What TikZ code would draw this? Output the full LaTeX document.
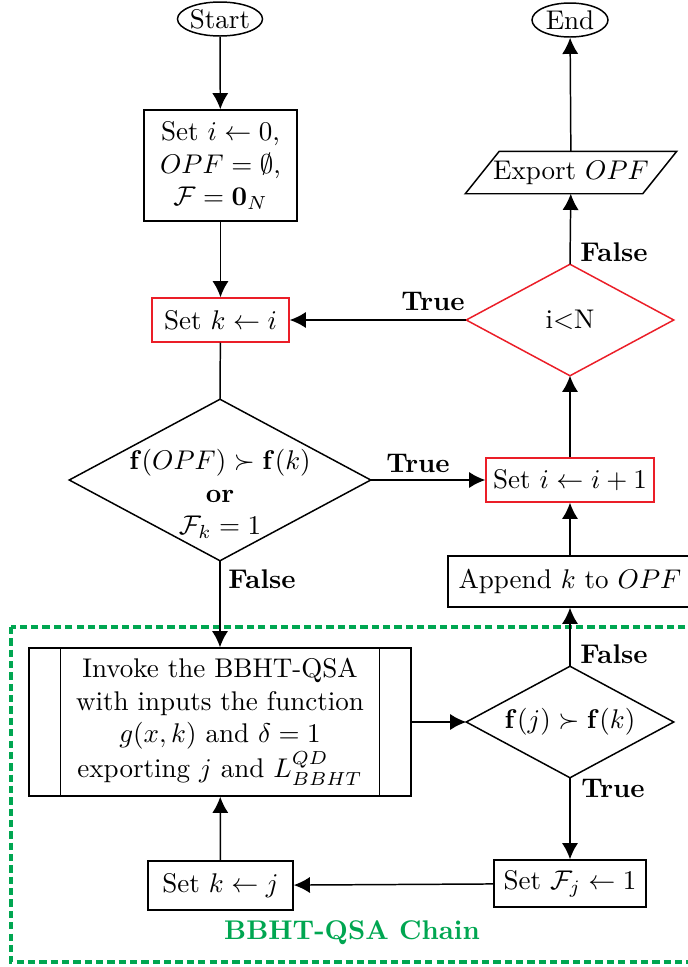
\documentclass[tikz,border=0pt]{standalone}
\usetikzlibrary{arrows.meta,shapes.geometric,calc}
\newlength\pxu
\setlength\pxu{0.37pt}
\definecolor{chaingreen}{RGB}{0,166,81}
\definecolor{hlred}{RGB}{235,30,40}
\begin{document}
\begin{tikzpicture}[x=0.37pt,y=-0.37pt,line width=0.55pt,
  >={Latex[length=6pt,width=6pt]},
  box/.style={draw,rectangle,inner sep=0pt,align=center},
  hot/.style={box,draw=hlred},
  term/.style={draw,ellipse,inner sep=0pt},
  decision/.style={rectangle,inner sep=0pt},
  lbl/.style={font=\bfseries,inner sep=0pt},
  chain/.style={draw=chaingreen,line width=1.3pt,dash pattern=on 2.7pt off 1.5pt}]
\useasboundingbox (0,0) rectangle (687,967);

% left column
\node[term,minimum width=76\pxu,minimum height=34\pxu] (start) at (220,19) {Start};
\node[box,minimum width=153\pxu,minimum height=111\pxu] (init) at (220.5,165.5)
  {Set $i\leftarrow 0$,\\ $OPF=\emptyset$,\\ $\mathcal{F}=\mathbf{0}_N$};
\node[hot,minimum width=137\pxu,minimum height=44\pxu] (setk) at (220.5,320) {Set $k\leftarrow i$};
\node[decision,minimum width=300\pxu,minimum height=160\pxu] (cond) at (220,480) {};
\draw (cond.north) -- (cond.east) -- (cond.south) -- (cond.west) -- cycle;
\node[align=center,inner sep=0pt] (condtxt) at (220,494)
  {$\mathbf{f}(OPF)\succ\mathbf{f}(k)$\\ \textbf{or}\\ $\mathcal{F}_k=1$};

% right column
\node[term,minimum width=76\pxu,minimum height=34\pxu] (end) at (570,20) {End};
\node[decision,minimum width=176\pxu,minimum height=41\pxu] (export) at (571,172.5) {Export $OPF$};
\draw ($(export.north west)+(17,0)$) -- ($(export.north east)+(17,0)$)
   -- ($(export.south east)+(-17,0)$) -- ($(export.south west)+(-17,0)$) -- cycle;
\node[decision,minimum width=206\pxu,minimum height=110\pxu] (less) at (570,320) {i$<$N};
\draw[hlred] (less.north) -- (less.east) -- (less.south) -- (less.west) -- cycle;
\node[hot,minimum width=168\pxu,minimum height=44\pxu] (inc) at (570,480) {Set $i\leftarrow i+1$};
\node[box,minimum width=244\pxu,minimum height=51\pxu] (append) at (570,581.5) {Append $k$ to $OPF$};

% BBHT-QSA chain
\draw[chain] (11,627) rectangle (700,962);
\node[lbl,text=chaingreen] (chainlbl) at (352,933) {BBHT-QSA Chain};
\node[box,minimum width=382\pxu,minimum height=148\pxu] (invoke) at (220,722)
  {Invoke the BBHT-QSA\\ with inputs the function\\ $g(x,k)$ and $\delta=1$\\ exporting $j$ and $L^{QD}_{BBHT}$};
\draw ($(invoke.north west)+(32,0)$) -- ($(invoke.south west)+(32,0)$);
\draw ($(invoke.north east)+(-32,0)$) -- ($(invoke.south east)+(-32,0)$);
\node[decision,minimum width=206\pxu,minimum height=110\pxu] (fj) at (570,722) {$\mathbf{f}(j)\succ\mathbf{f}(k)$};
\draw (fj.north) -- (fj.east) -- (fj.south) -- (fj.west) -- cycle;
\node[box,minimum width=152\pxu,minimum height=47\pxu] (setfj) at (570,883.5) {Set $\mathcal{F}_j\leftarrow 1$};
\node[box,minimum width=145\pxu,minimum height=49\pxu] (setkj) at (220.5,885.5) {Set $k\leftarrow j$};

% connectors
\draw[->] (start) -- (init);
\draw[->] (init) -- (setk);
\draw (setk) -- (cond.north);
\draw[->] (cond.east) -- (inc.west);
\node[lbl] (ltrue1) at (418,463) {True};
\draw[->] (cond.south) -- (invoke.north);
\node[lbl] (lfalse1) at (262,579) {False};
\draw[->] (append) -- (inc);
\draw[->] (inc) -- (less.south);
\draw[->] (less.west) -- (setk.east);
\node[lbl] (ltrue2) at (433,301) {True};
\draw[->] (less.north) -- (export);
\node[lbl] (lfalse2) at (614,252) {False};
\draw[->] (export) -- (end);
\draw[->] (invoke.east) -- (fj.west);
\draw[->] (fj.north) -- (append);
\node[lbl] (lfalse3) at (614,654) {False};
\draw[->] (fj.south) -- (setfj);
\node[lbl] (ltrue3) at (613,788) {True};
\draw[->] (setfj) -- (setkj);
\draw[->] (setkj) -- (invoke);
\end{tikzpicture}
\end{document}
